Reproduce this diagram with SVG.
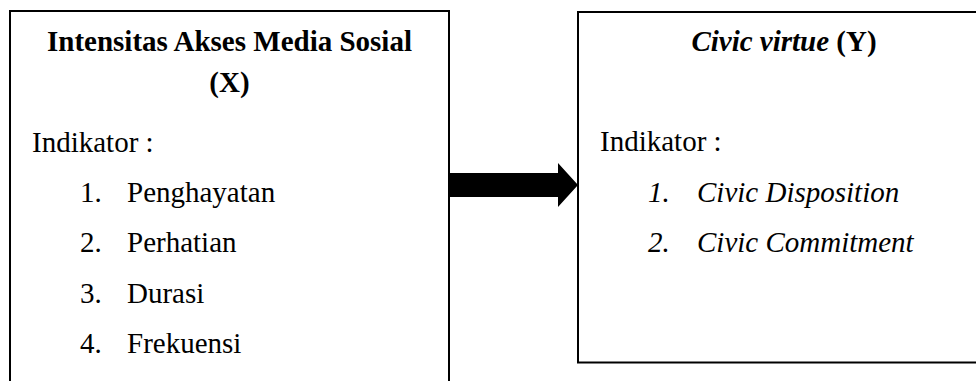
<svg xmlns="http://www.w3.org/2000/svg" width="976" height="381" viewBox="0 0 976 381">
<style>
.box{fill:#fff;stroke:#000;stroke-width:2}
text{font-family:"Liberation Serif","Times New Roman",serif;font-size:29px;fill:#000}
.b{font-weight:bold}
.i{font-style:italic}
.m{text-anchor:middle}
</style>
<rect width="976" height="381" fill="#fff"/>
<g id="nodeX">
<rect class="box" x="10" y="11" width="439" height="400"/>
<text class="b m" x="229.5" y="51">Intensitas Akses Media Sosial</text>
<text class="b m" x="229.5" y="92">(X)</text>
<text x="32" y="152">Indikator :</text>
<text x="80" y="202">1.</text><text x="127" y="202">Penghayatan</text>
<text x="80" y="252">2.</text><text x="127" y="252">Perhatian</text>
<text x="80" y="303">3.</text><text x="127" y="303">Durasi</text>
<text x="80" y="353">4.</text><text x="127" y="353">Frekuensi</text>
</g>
<g id="nodeY">
<rect class="box" x="578" y="12" width="430" height="350.5"/>
<text class="m" x="784" y="51"><tspan class="b i">Civic virtue</tspan><tspan class="b"> (Y)</tspan></text>
<text x="600" y="151">Indikator :</text>
<text class="i" x="648" y="202">1.</text><text class="i" x="697" y="202">Civic Disposition</text>
<text class="i" x="648" y="252">2.</text><text class="i" x="697" y="252">Civic Commitment</text>
</g>
<g id="connectors">
<polygon points="450,173 558,173 558,163 578,185 558,207 558,197 450,197" fill="#000"/>
</g>
</svg>
